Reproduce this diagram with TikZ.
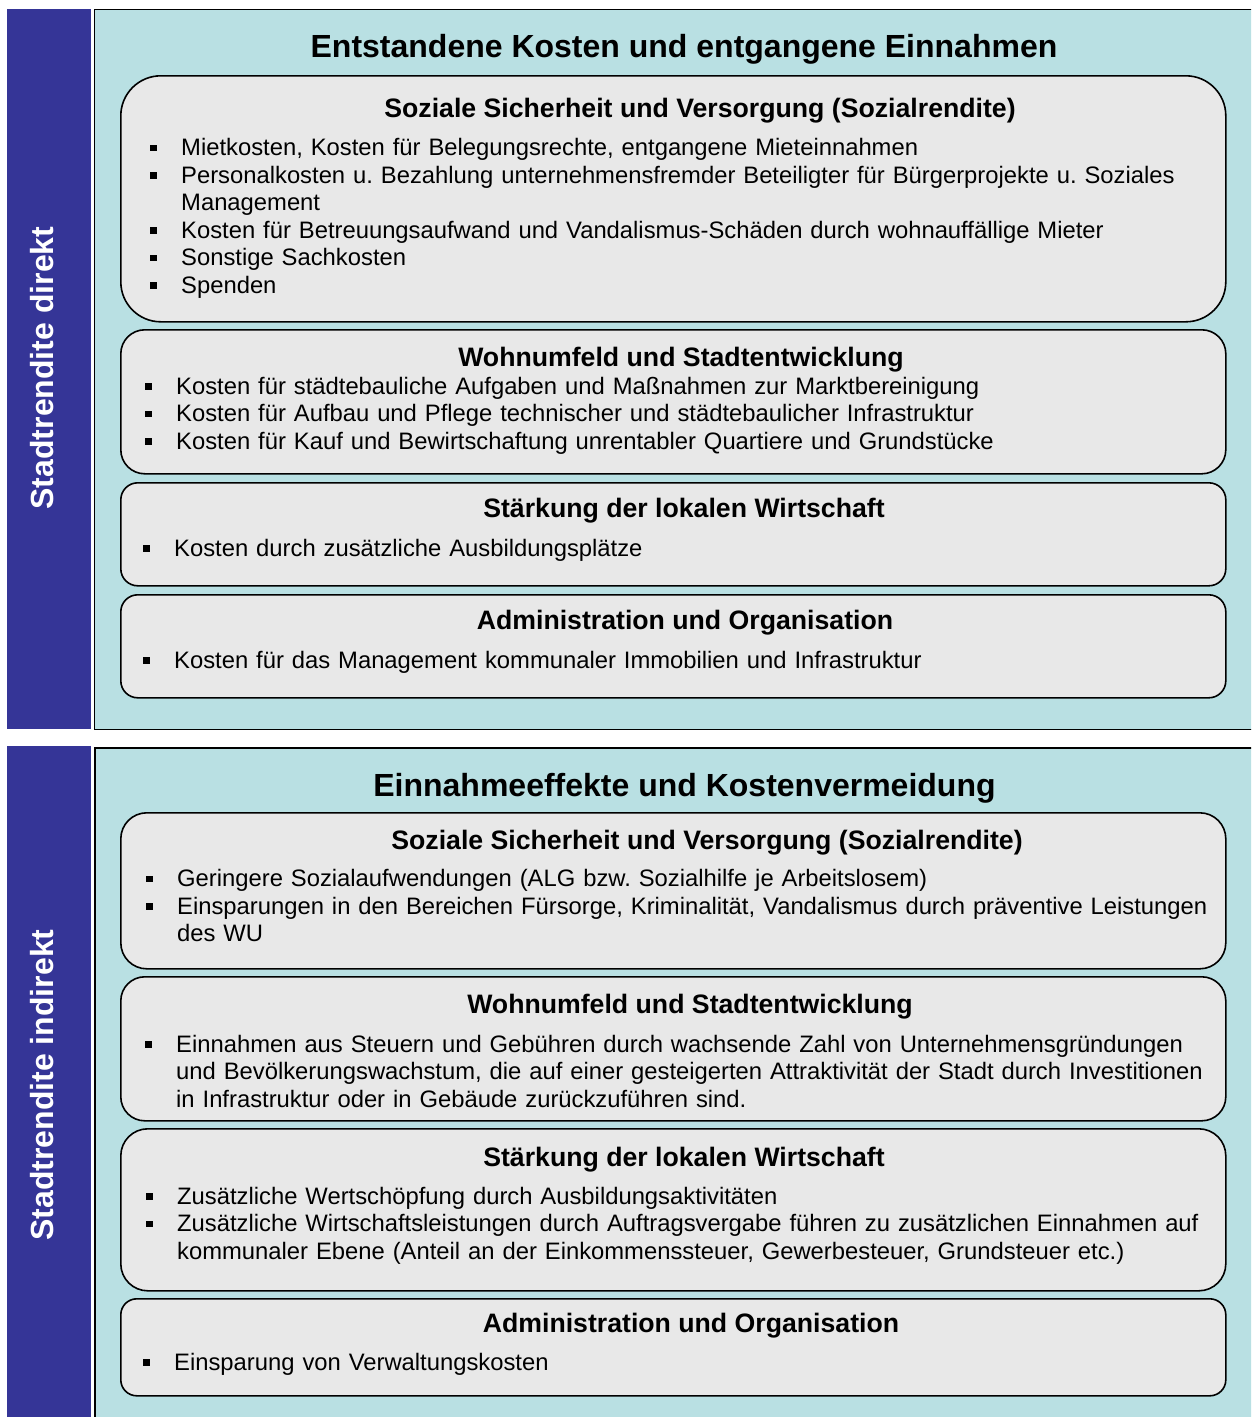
\documentclass[tikz,border=0pt]{standalone}
\usepackage{fontspec}
\setmainfont{Liberation Sans}
\usepackage{tikz}
\definecolor{balken}{RGB}{53,53,151}
\definecolor{feld}{RGB}{185,224,227}
\definecolor{grau}{RGB}{232,232,232}
\newlength{\einzug}\setlength{\einzug}{31pt}
\newcommand{\pkt}[1]{\noindent\hangindent=\einzug\hangafter=1\makebox[\einzug][l]{\rule[4.5pt]{6.5pt}{6.5pt}}#1\par}

\begin{document}
\frenchspacing
\begin{tikzpicture}[x=1pt,y=-1pt,
	kasten/.style={draw=black,line width=1.6pt,fill=grau,minimum width=1105pt,anchor=north west,inner sep=0pt},
	titel/.style={font=\fontsize{32}{38}\selectfont\bfseries,anchor=base},
	kopf/.style={font=\fontsize{26.67}{32}\selectfont\bfseries,anchor=base},
	liste/.style={font=\fontsize{23.8}{27.5}\selectfont,text width=1075pt,align=left,anchor=base west,inner sep=0pt},
	seite/.style={font=\fontsize{32}{38}\selectfont\bfseries,text=white,rotate=90,anchor=base}]
	\useasboundingbox (0,0) rectangle (1251,1417);
	\clip (0,0) rectangle (1251,1417);
	% seitenbalken
	\fill[balken] (7,9) rectangle (91,729);
	\fill[balken] (7,746) rectangle (91,1430);
	\node[seite] (direkt) at (53,368) {Stadtrendite direkt};
	\node[seite] (indirekt) at (53,1085) {Stadtrendite indirekt};
	% felder
	\draw[fill=feld,line width=1.5pt] (94.5,9.5) rectangle (1270,729.5);
	\draw[fill=feld,line width=1.5pt] (95,748) rectangle (1270,1440);
	
	% oberes feld
	\node[titel] (kosten) at (684,57) {Entstandene Kosten und entgangene Einnahmen};
	\node[kasten,minimum height=246pt,rounded corners=40pt] (sozD) at (120,75) {};
	\node[kopf] (sozDk) at (700,117) {Soziale Sicherheit und Versorgung (Sozialrendite)};
	\node[liste] (sozDl) at (150,155.5) {%
		\pkt{Mietkosten, Kosten für Belegungsrechte, entgangene Mieteinnahmen}
		\pkt{Personalkosten u. Bezahlung unternehmensfremder Beteiligter für Bürgerprojekte u. Soziales\newline Management}
		\pkt{Kosten für Betreuungsaufwand und Vandalismus-Schäden durch wohnauffällige Mieter}
		\pkt{Sonstige Sachkosten}
		\pkt{Spenden}};
	\node[kasten,minimum height=144pt,rounded corners=24pt] (wohnD) at (120,329) {};
	\node[kopf] (wohnDk) at (681,366) {Wohnumfeld und Stadtentwicklung};
	\node[liste] (wohnDl) at (145,394) {%
		\pkt{Kosten für städtebauliche Aufgaben und Maßnahmen zur Marktbereinigung}
		\pkt{Kosten für Aufbau und Pflege technischer und städtebaulicher Infrastruktur}
		\pkt{Kosten für Kauf und Bewirtschaftung unrentabler Quartiere und Grundstücke}};
	\node[kasten,minimum height=103pt,rounded corners=17pt] (wirtD) at (120,482) {};
	\node[kopf] (wirtDk) at (684,517) {Stärkung der lokalen Wirtschaft};
	\node[liste] (wirtDl) at (143,556) {%
		\pkt{Kosten durch zusätzliche Ausbildungsplätze}};
	\node[kasten,minimum height=103pt,rounded corners=17pt] (admD) at (120,594) {};
	\node[kopf] (admDk) at (685,629) {Administration und Organisation};
	\node[liste] (admDl) at (143,668) {%
		\pkt{Kosten für das Management kommunaler Immobilien und Infrastruktur}};
	
	% unteres feld
	\node[titel] (einnahmen) at (684.5,796) {Einnahmeeffekte und Kostenvermeidung};
	\node[kasten,minimum height=156pt,rounded corners=26pt] (sozI) at (120,812) {};
	\node[kopf] (sozIk) at (707,849) {Soziale Sicherheit und Versorgung (Sozialrendite)};
	\node[liste] (sozIl) at (146,886.5) {%
		\pkt{Geringere Sozialaufwendungen (ALG bzw. Sozialhilfe je Arbeitslosem)}
		\pkt{Einsparungen in den Bereichen Fürsorge, Kriminalität, Vandalismus durch präventive Leistungen\newline des WU}};
	\node[kasten,minimum height=144pt,rounded corners=24pt] (wohnI) at (120,976) {};
	\node[kopf] (wohnIk) at (690,1013) {Wohnumfeld und Stadtentwicklung};
	\node[liste] (wohnIl) at (145,1052) {%
		\pkt{Einnahmen aus Steuern und Gebühren durch wachsende Zahl von Unternehmensgründungen\newline und Bevölkerungswachstum, die auf einer gesteigerten Attraktivität der Stadt durch Investitionen\newline in Infrastruktur oder in Gebäude zurückzuführen sind.}};
	\node[kasten,minimum height=162pt,rounded corners=27pt] (wirtI) at (120,1128) {};
	\node[kopf] (wirtIk) at (684,1166) {Stärkung der lokalen Wirtschaft};
	\node[liste] (wirtIl) at (146,1204) {%
		\pkt{Zusätzliche Wertschöpfung durch Ausbildungsaktivitäten}
		\pkt{Zusätzliche Wirtschaftsleistungen durch Auftragsvergabe führen zu zusätzlichen Einnahmen auf\newline kommunaler Ebene (Anteil an der Einkommenssteuer, Gewerbesteuer, Grundsteuer etc.)}};
	\node[kasten,minimum height=97pt,rounded corners=16pt] (admI) at (120,1298) {};
	\node[kopf] (admIk) at (691,1332) {Administration und Organisation};
	\node[liste] (admIl) at (143,1370) {%
		\pkt{Einsparung von Verwaltungskosten}};
\end{tikzpicture}
\end{document}
